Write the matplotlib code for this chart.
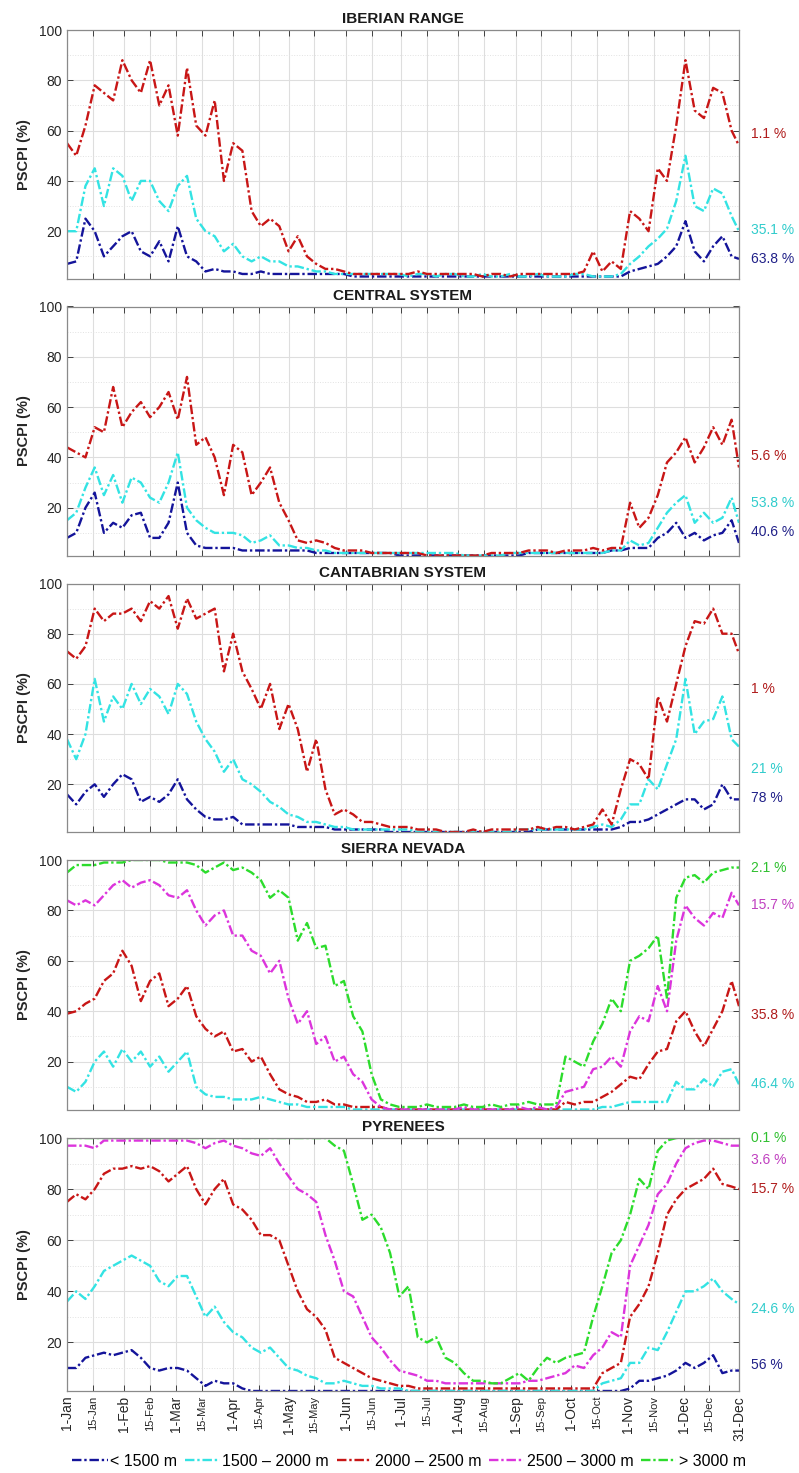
import matplotlib.pyplot as plt
from matplotlib.ticker import MultipleLocator

plt.rcParams['font.family'] = ['Liberation Sans', 'DejaVu Sans']

# sample days (day of year), one reading every 5 days
days = list(range(1, 362, 5)) + [365]

xtick_days = [1, 15, 32, 46, 60, 74, 91, 105, 121, 135, 152, 166, 182, 196,
              213, 227, 244, 258, 274, 288, 305, 319, 335, 349, 365]
xtick_labels = ['1-Jan', '15-Jan', '1-Feb', '15-Feb', '1-Mar', '15-Mar',
                '1-Apr', '15-Apr', '1-May', '15-May', '1-Jun', '15-Jun',
                '1-Jul', '15-Jul', '1-Aug', '15-Aug', '1-Sep', '15-Sep',
                '1-Oct', '15-Oct', '1-Nov', '15-Nov', '1-Dec', '15-Dec',
                '31-Dec']

bands = ['< 1500 m', '1500 \u2013 2000 m', '2000 \u2013 2500 m',
         '2500 \u2013 3000 m', '> 3000 m']
band_colors = ['#14149a', '#33e3e3', '#c81616', '#dc34dc', '#2cdc2c']
text_colors = ['#202088', '#30cccc', '#b01c1c', '#c040c0', '#30c030']

# ---- IBERIAN RANGE
ib_b1 = [7, 8, 25, 20, 10, 14, 18, 20, 12, 10,
         16, 8, 22, 10, 8, 4, 5, 4, 4, 3,
         3, 4, 3, 3, 3, 3, 3, 3, 3, 3,
         3, 2, 2, 2, 2, 2, 2, 2, 2, 2,
         2, 2, 2, 2, 2, 2, 2, 2, 2, 2,
         2, 2, 2, 2, 2, 2, 2, 2, 2, 2,
         2, 4, 5, 6, 7, 10, 14, 24, 12, 8,
         14, 18, 10, 9]
ib_b2 = [20, 20, 38, 45, 30, 45, 42, 32, 40, 40,
         32, 28, 38, 42, 25, 20, 18, 12, 15, 10,
         8, 10, 8, 8, 6, 6, 5, 4, 4, 3,
         3, 3, 3, 3, 3, 3, 3, 2, 3, 3,
         2, 3, 3, 2, 2, 3, 2, 2, 3, 2,
         2, 3, 2, 2, 2, 3, 3, 2, 2, 2,
         3, 7, 10, 14, 17, 21, 32, 50, 30, 28,
         37, 35, 26, 20]
ib_b3 = [55, 50, 62, 78, 75, 72, 88, 80, 75, 88,
         70, 78, 58, 85, 62, 58, 72, 40, 55, 52,
         28, 22, 25, 22, 12, 18, 10, 7, 5, 5,
         4, 3, 3, 3, 3, 3, 3, 3, 4, 3,
         3, 3, 3, 3, 3, 2, 3, 3, 2, 3,
         3, 3, 3, 3, 3, 3, 4, 12, 4, 8,
         5, 28, 25, 20, 45, 40, 62, 88, 68, 65,
         77, 75, 60, 54]
ib_pct = ['63.8 %', '35.1 %', '1.1 %']

# ---- CENTRAL SYSTEM
cs_b1 = [8, 10, 20, 26, 10, 14, 12, 17, 18, 8,
         8, 14, 30, 10, 5, 4, 4, 4, 4, 3,
         3, 3, 3, 3, 3, 3, 3, 2, 2, 2,
         2, 2, 2, 2, 2, 2, 1, 1, 1, 1,
         1, 1, 1, 1, 1, 1, 1, 1, 1, 1,
         2, 2, 2, 2, 2, 2, 2, 2, 2, 3,
         3, 4, 4, 4, 8, 10, 14, 8, 10, 7,
         9, 10, 15, 6]
cs_b2 = [15, 18, 28, 36, 25, 33, 22, 32, 30, 24,
         22, 30, 42, 20, 15, 12, 10, 10, 10, 9,
         6, 7, 9, 5, 5, 4, 4, 3, 3, 2,
         2, 2, 2, 2, 2, 2, 2, 2, 2, 2,
         2, 2, 2, 1, 1, 1, 1, 1, 2, 2,
         2, 2, 2, 2, 2, 2, 2, 2, 2, 3,
         3, 7, 5, 6, 12, 18, 22, 25, 14, 18,
         14, 16, 24, 14]
cs_b3 = [44, 42, 40, 52, 50, 68, 52, 58, 62, 56,
         60, 66, 55, 72, 45, 48, 40, 25, 45, 42,
         25, 30, 36, 22, 15, 7, 6, 7, 6, 4,
         3, 3, 3, 2, 2, 2, 2, 2, 2, 1,
         1, 1, 1, 1, 1, 1, 2, 2, 2, 2,
         3, 3, 3, 2, 3, 3, 3, 4, 3, 4,
         4, 22, 12, 16, 25, 38, 42, 48, 38, 44,
         52, 45, 55, 36]
cs_pct = ['40.6 %', '53.8 %', '5.6 %']

# ---- CANTABRIAN SYSTEM
ct_b1 = [16, 12, 17, 20, 15, 20, 24, 22, 13, 15,
         13, 16, 22, 14, 10, 7, 6, 6, 7, 4,
         4, 4, 4, 4, 4, 3, 3, 3, 3, 2,
         2, 2, 2, 2, 2, 1, 1, 1, 1, 1,
         1, 1, 1, 1, 1, 1, 1, 1, 1, 1,
         1, 2, 2, 2, 2, 2, 2, 2, 2, 2,
         3, 5, 5, 6, 8, 10, 12, 14, 14, 10,
         12, 20, 14, 14]
ct_b2 = [38, 30, 40, 62, 45, 55, 50, 60, 52, 58,
         55, 48, 60, 56, 45, 38, 33, 25, 30, 22,
         20, 17, 13, 11, 8, 7, 5, 5, 4, 3,
         3, 2, 2, 2, 2, 2, 2, 2, 1, 1,
         1, 1, 1, 1, 1, 1, 1, 1, 1, 2,
         2, 2, 2, 2, 2, 2, 2, 3, 4, 3,
         6, 12, 12, 22, 18, 28, 38, 62, 40, 45,
         46, 55, 38, 35]
ct_b3 = [73, 70, 75, 90, 85, 88, 88, 90, 85, 93,
         90, 95, 82, 94, 86, 88, 90, 65, 80, 65,
         58, 50, 60, 42, 52, 42, 25, 38, 18, 8,
         10, 8, 5, 5, 4, 3, 3, 3, 2, 2,
         2, 1, 1, 1, 2, 1, 2, 2, 2, 2,
         2, 3, 2, 3, 3, 2, 3, 4, 10, 4,
         18, 30, 28, 22, 55, 45, 60, 75, 85, 84,
         90, 80, 80, 72]
ct_pct = ['78 %', '21 %', '1 %']

# ---- SIERRA NEVADA
sn_b2 = [10, 8, 12, 20, 24, 18, 25, 20, 24, 18,
         22, 16, 20, 24, 10, 7, 6, 6, 5, 5,
         5, 6, 5, 4, 3, 3, 2, 2, 2, 2,
         2, 1, 1, 1, 1, 1, 1, 1, 1, 1,
         1, 1, 1, 1, 1, 1, 1, 1, 1, 1,
         1, 1, 1, 1, 1, 1, 1, 1, 2, 2,
         3, 4, 4, 4, 4, 4, 12, 9, 9, 13,
         10, 16, 17, 11]
sn_b3 = [39, 40, 43, 45, 52, 55, 64, 58, 44, 52,
         55, 42, 45, 50, 38, 33, 30, 32, 24, 25,
         20, 22, 15, 9, 7, 6, 4, 4, 5, 3,
         3, 2, 2, 2, 2, 1, 1, 1, 1, 1,
         1, 1, 1, 1, 1, 1, 1, 1, 1, 1,
         1, 1, 1, 1, 4, 3, 4, 4, 6, 8,
         11, 14, 13, 19, 24, 25, 36, 40, 32, 26,
         33, 40, 52, 42]
sn_b4 = [84, 82, 84, 82, 86, 90, 92, 89, 91, 92,
         90, 86, 85, 88, 80, 74, 78, 80, 70, 70,
         64, 62, 55, 60, 45, 35, 40, 27, 30, 20,
         22, 15, 12, 5, 2, 1, 1, 1, 1, 1,
         1, 1, 1, 2, 1, 1, 1, 1, 1, 2,
         1, 2, 1, 2, 8, 9, 10, 17, 18, 22,
         18, 32, 38, 36, 50, 40, 68, 82, 77, 74,
         79, 77, 87, 82]
sn_b5 = [95, 98, 98, 98, 99, 99, 99, 100, 100, 100,
         100, 99, 99, 99, 98, 95, 97, 99, 96, 97,
         95, 92, 85, 88, 85, 68, 75, 65, 66, 50,
         52, 38, 32, 15, 5, 3, 2, 2, 2, 3,
         2, 2, 2, 3, 2, 2, 3, 2, 3, 3,
         4, 3, 3, 3, 22, 20, 18, 28, 35, 45,
         40, 60, 62, 65, 70, 45, 85, 93, 94, 91,
         95, 96, 97, 97]
sn_pct = ['46.4 %', '35.8 %', '15.7 %', '2.1 %']

# ---- PYRENEES
py_b1 = [10, 10, 14, 15, 16, 15, 16, 17, 14, 10,
         9, 10, 10, 9, 6, 3, 5, 4, 4, 2,
         1, 1, 1, 1, 1, 1, 1, 1, 1, 1,
         1, 1, 1, 1, 1, 1, 1, 1, 1, 1,
         1, 1, 1, 1, 1, 1, 1, 1, 1, 1,
         1, 1, 1, 1, 1, 1, 1, 1, 1, 1,
         1, 2, 5, 5, 6, 7, 9, 12, 10, 12,
         15, 8, 9, 9]
py_b2 = [36, 40, 37, 42, 48, 50, 52, 54, 52, 50,
         44, 42, 46, 46, 38, 30, 34, 28, 24, 22,
         18, 16, 18, 14, 10, 9, 7, 6, 4, 4,
         5, 4, 3, 3, 2, 2, 2, 1, 1, 1,
         1, 1, 1, 1, 1, 1, 1, 1, 1, 1,
         1, 1, 1, 1, 1, 1, 1, 1, 4, 5,
         6, 12, 12, 18, 17, 24, 32, 40, 40, 42,
         45, 40, 37, 35]
py_b3 = [75, 78, 76, 80, 86, 88, 88, 89, 88, 89,
         87, 83, 86, 89, 80, 74, 80, 84, 74, 72,
         68, 62, 62, 60, 50, 40, 33, 30, 25, 14,
         12, 10, 8, 6, 5, 4, 3, 3, 2, 2,
         2, 2, 2, 2, 2, 2, 2, 2, 2, 2,
         2, 2, 2, 2, 2, 2, 2, 2, 8, 10,
         12, 30, 35, 42, 55, 70, 76, 80, 82, 84,
         88, 82, 81, 80]
py_b4 = [97, 97, 97, 96, 99, 99, 99, 99, 99, 99,
         99, 99, 99, 99, 98, 96, 98, 99, 97, 96,
         94, 93, 96, 90, 85, 80, 78, 75, 62, 52,
         40, 38, 30, 22, 18, 13, 9, 8, 7, 5,
         5, 4, 4, 4, 4, 4, 4, 4, 4, 4,
         5, 5, 6, 7, 8, 11, 10, 15, 18, 24,
         22, 50, 58, 66, 78, 82, 90, 96, 98, 99,
         99, 98, 97, 97]
py_b5 = [100, 100, 100, 100, 100, 100, 100, 100, 100, 100,
         100, 100, 100, 100, 100, 100, 100, 100, 100, 100,
         100, 100, 100, 100, 100, 100, 100, 100, 100, 97,
         95, 82, 68, 70, 65, 55, 38, 42, 22, 20,
         22, 14, 12, 8, 5, 5, 4, 4, 6, 8,
         5, 10, 14, 12, 14, 15, 16, 30, 42, 55,
         60, 70, 84, 80, 95, 99, 100, 100, 100, 100,
         100, 100, 100, 100]
py_pct = ['56 %', '24.6 %', '15.7 %', '3.6 %', '0.1 %']

# (title, band indices, series, percent labels, label y, axes top/bottom px)
panels = [
    ('IBERIAN RANGE', [0, 1, 2], [ib_b1, ib_b2, ib_b3], ib_pct,
     [9, 20.5, 58.5], 30, 279),
    ('CENTRAL SYSTEM', [0, 1, 2], [cs_b1, cs_b2, cs_b3], cs_pct,
     [10.5, 22, 40.5], 306.5, 555.5),
    ('CANTABRIAN SYSTEM', [0, 1, 2], [ct_b1, ct_b2, ct_b3], ct_pct,
     [14.5, 26, 58], 583.5, 832),
    ('SIERRA NEVADA', [1, 2, 3, 4], [sn_b2, sn_b3, sn_b4, sn_b5], sn_pct,
     [11, 38.5, 82, 97], 860, 1109.5),
    ('PYRENEES', [0, 1, 2, 3, 4], [py_b1, py_b2, py_b3, py_b4, py_b5], py_pct,
     [11, 33, 80, 91.5, 100], 1138, 1391),
]

W, H = 799, 1473
fig = plt.figure(figsize=(W / 100, H / 100), dpi=100)

for k, (title, idx, series, pct, laby, top, bot) in enumerate(panels):
    ax = fig.add_axes([67 / W, 1 - bot / H, 672 / W, (bot - top) / H])
    for b, vals in zip(idx, series):
        ax.plot(days, vals, linestyle=(0, (4, 1.2, 1, 1.2)),
                color=band_colors[b], lw=1.7, label=bands[b],
                dash_capstyle='butt')
    for b, txt, yy in zip(idx, pct, laby):
        ax.text(1.018, yy, txt, transform=ax.get_yaxis_transform(),
                color=text_colors[b], fontsize=10, va='center', ha='left')

    ax.set_xlim(1, 365)
    ax.set_ylim(1, 100)
    ax.set_xticks(xtick_days)
    ax.set_yticks([20, 40, 60, 80, 100])
    ax.yaxis.set_minor_locator(MultipleLocator(10))
    ax.grid(True, which='major', color='#dedede', lw=0.8)
    ax.grid(True, which='minor', axis='y', color='#e2e2e2', lw=0.7,
            linestyle=':')
    ax.set_axisbelow(True)
    ax.tick_params(which='major', direction='in', top=True, right=True,
                   length=4, width=0.7, color='#404040',
                   labelsize=10, labelcolor='#262626')
    ax.tick_params(which='minor', length=0)
    for s in ax.spines.values():
        s.set_color('#8a8a8a')
        s.set_linewidth(0.9)
    ax.set_ylabel('PSCPI (%)', fontsize=10.5, fontweight='bold',
                  color='#262626', labelpad=6)
    ax.set_title(title, fontsize=11, fontweight='bold', color='#1a1a1a',
                 pad=5)

    if k == len(panels) - 1:
        ax.set_xticklabels(xtick_labels, rotation=90)
        for lab in ax.get_xticklabels():
            if lab.get_text().startswith('15-'):
                lab.set_fontsize(8)
            else:
                lab.set_fontsize(10)
        handles, labels = ax.get_legend_handles_labels()
        fig.legend(handles, labels, loc='center', ncol=5,
                   bbox_to_anchor=(0.512, 0.0078), frameon=False,
                   fontsize=11.5, handlelength=2.2, handletextpad=0.15,
                   columnspacing=0.5)
    else:
        ax.set_xticklabels([])

fig.savefig('out.png', dpi=100)
